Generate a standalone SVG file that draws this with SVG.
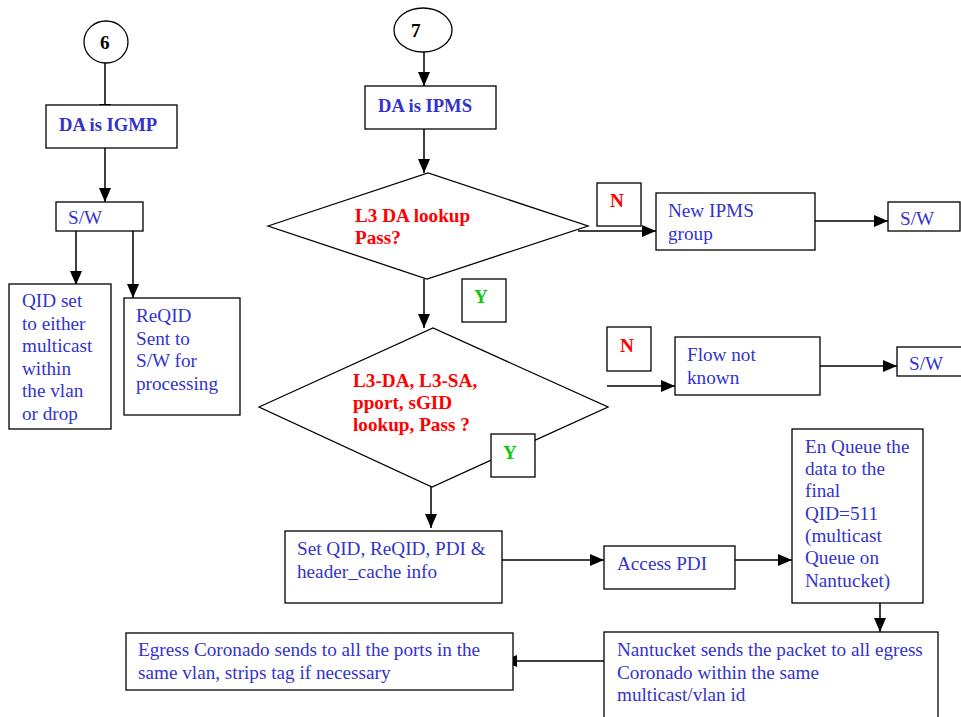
<svg xmlns="http://www.w3.org/2000/svg" width="961" height="717" viewBox="0 0 961 717">
  <defs>
    <marker id="arrow" markerUnits="userSpaceOnUse" markerWidth="14" markerHeight="14" viewBox="0 0 14 12" refX="14" refY="6" orient="auto">
      <path d="M0,0 L14,6 L0,12 Z" fill="#000"/>
    </marker>
    <style>
      .box { fill: #fff; stroke: #000; stroke-width: 1.3; }
      .conn { fill: none; stroke: #000; stroke-width: 1.5; marker-end: url(#arrow); }
      text { font-family: "Liberation Serif", "Times New Roman", serif; font-size: 19.2px; }
      .txt { fill: #3333cc; }
      .head { fill: #3333cc; font-weight: bold; font-size: 18.6px; }
      .cond { fill: #ff0000; font-weight: bold; }
      .yes { fill: #11c811; font-weight: bold; }
      .no { fill: #ff0000; font-weight: bold; }
      .num { fill: #000; font-weight: bold; }
    </style>
  </defs>

  <!-- connectors -->
  <g id="connectors">
    <path class="conn" d="M105,58 V118"/>
    <path class="conn" d="M105,143 V202"/>
    <path class="conn" d="M76,231 V285"/>
    <path class="conn" d="M133,231 V298"/>
    <path class="conn" d="M424,52 V86"/>
    <path class="conn" d="M424,124 V173"/>
    <path class="conn" d="M578,231 H656"/>
    <path class="conn" d="M810,221 H888"/>
    <path class="conn" d="M424,279 V328"/>
    <path class="conn" d="M607,386 H675"/>
    <path class="conn" d="M820,366 H897"/>
    <path class="conn" d="M431,487 V528"/>
    <path class="conn" d="M502,560 H604"/>
    <path class="conn" d="M735,560 H792"/>
    <path class="conn" d="M880,603 V632"/>
    <path class="conn" d="M604,661 H503"/>
  </g>

  <!-- connector 6 -->
  <g id="conn6">
    <ellipse class="box" cx="106" cy="42" rx="22" ry="21"/>
    <text class="num" x="100" y="49">6</text>
  </g>

  <g id="igmp">
    <rect class="box" x="46" y="105" width="131" height="43"/>
    <text class="head" x="59" y="131">DA is IGMP</text>
  </g>

  <g id="sw-igmp">
    <rect class="box" x="56" y="202" width="87" height="29"/>
    <text class="txt" x="68" y="224">S/W</text>
  </g>

  <g id="qid-set">
    <rect class="box" x="9" y="284" width="102" height="145"/>
    <text class="txt" x="22" y="307">QID set</text>
    <text class="txt" x="22" y="330">to either</text>
    <text class="txt" x="22" y="352">multicast</text>
    <text class="txt" x="22" y="375">within</text>
    <text class="txt" x="22" y="397">the vlan</text>
    <text class="txt" x="22" y="420">or drop</text>
  </g>

  <g id="reqid">
    <rect class="box" x="124" y="298" width="116" height="117"/>
    <text class="txt" x="136" y="322">ReQID</text>
    <text class="txt" x="136" y="345">Sent to</text>
    <text class="txt" x="136" y="367">S/W for</text>
    <text class="txt" x="136" y="390">processing</text>
  </g>

  <!-- connector 7 -->
  <g id="conn7">
    <ellipse class="box" cx="423" cy="30" rx="29" ry="22"/>
    <text class="num" x="411" y="37">7</text>
  </g>

  <g id="ipms">
    <rect class="box" x="365" y="86" width="131" height="43"/>
    <text class="head" x="378" y="112">DA is IPMS</text>
  </g>

  <g id="l3da">
    <path class="box" d="M268,226 L428,173 L588,226 L427,279 Z"/>
    <text class="cond" x="355" y="222">L3 DA lookup</text>
    <text class="cond" x="355" y="244">Pass?</text>
  </g>

  <g id="n1">
    <rect class="box" x="597" y="183" width="44" height="43"/>
    <text class="no" x="610" y="207">N</text>
  </g>

  <g id="new-ipms">
    <rect class="box" x="656" y="193" width="159" height="57"/>
    <text class="txt" x="668" y="217">New IPMS</text>
    <text class="txt" x="668" y="240">group</text>
  </g>

  <g id="sw-ipms">
    <rect class="box" x="888" y="202" width="72" height="29"/>
    <text class="txt" x="900" y="225">S/W</text>
  </g>

  <g id="y1">
    <rect class="box" x="462" y="279" width="44" height="43"/>
    <text class="yes" x="474" y="303">Y</text>
  </g>

  <g id="flow-lookup">
    <path class="box" d="M259,407 L433,328 L608,407 L432,487 Z"/>
    <text class="cond" x="353" y="387">L3-DA, L3-SA,</text>
    <text class="cond" x="353" y="409">pport, sGID</text>
    <text class="cond" x="353" y="431">lookup, Pass ?</text>
  </g>

  <g id="y2">
    <rect class="box" x="491" y="434" width="44" height="43"/>
    <text class="yes" x="503" y="459">Y</text>
  </g>

  <g id="n2">
    <rect class="box" x="607" y="327" width="44" height="44"/>
    <text class="no" x="620" y="352">N</text>
  </g>

  <g id="flow-unknown">
    <rect class="box" x="675" y="337" width="145" height="58"/>
    <text class="txt" x="687" y="361">Flow not</text>
    <text class="txt" x="687" y="384">known</text>
  </g>

  <g id="sw-flow">
    <rect class="box" x="897" y="347" width="66" height="29"/>
    <text class="txt" x="909" y="370">S/W</text>
  </g>

  <g id="set-qid">
    <rect class="box" x="285" y="531" width="217" height="72"/>
    <text class="txt" x="297" y="555">Set QID, ReQID, PDI &amp;</text>
    <text class="txt" x="297" y="578">header_cache info</text>
  </g>

  <g id="access-pdi">
    <rect class="box" x="604" y="546" width="131" height="43"/>
    <text class="txt" x="617" y="570">Access PDI</text>
  </g>

  <g id="enqueue">
    <rect class="box" x="792" y="429" width="131" height="174"/>
    <text class="txt" x="805" y="453">En Queue the</text>
    <text class="txt" x="805" y="475">data to the</text>
    <text class="txt" x="805" y="497">final</text>
    <text class="txt" x="805" y="520">QID=511</text>
    <text class="txt" x="805" y="542">(multicast</text>
    <text class="txt" x="805" y="564">Queue on</text>
    <text class="txt" x="805" y="587">Nantucket)</text>
  </g>

  <g id="nantucket">
    <rect class="box" x="604" y="632" width="334" height="100"/>
    <text class="txt" x="617" y="656">Nantucket sends the packet to all egress</text>
    <text class="txt" x="617" y="679">Coronado within the same</text>
    <text class="txt" x="617" y="701">multicast/vlan id</text>
  </g>

  <g id="egress">
    <rect class="box" x="126" y="633" width="387" height="57"/>
    <text class="txt" x="138" y="656">Egress Coronado sends to all the ports in the</text>
    <text class="txt" x="138" y="679">same vlan, strips tag if necessary</text>
  </g>
</svg>
